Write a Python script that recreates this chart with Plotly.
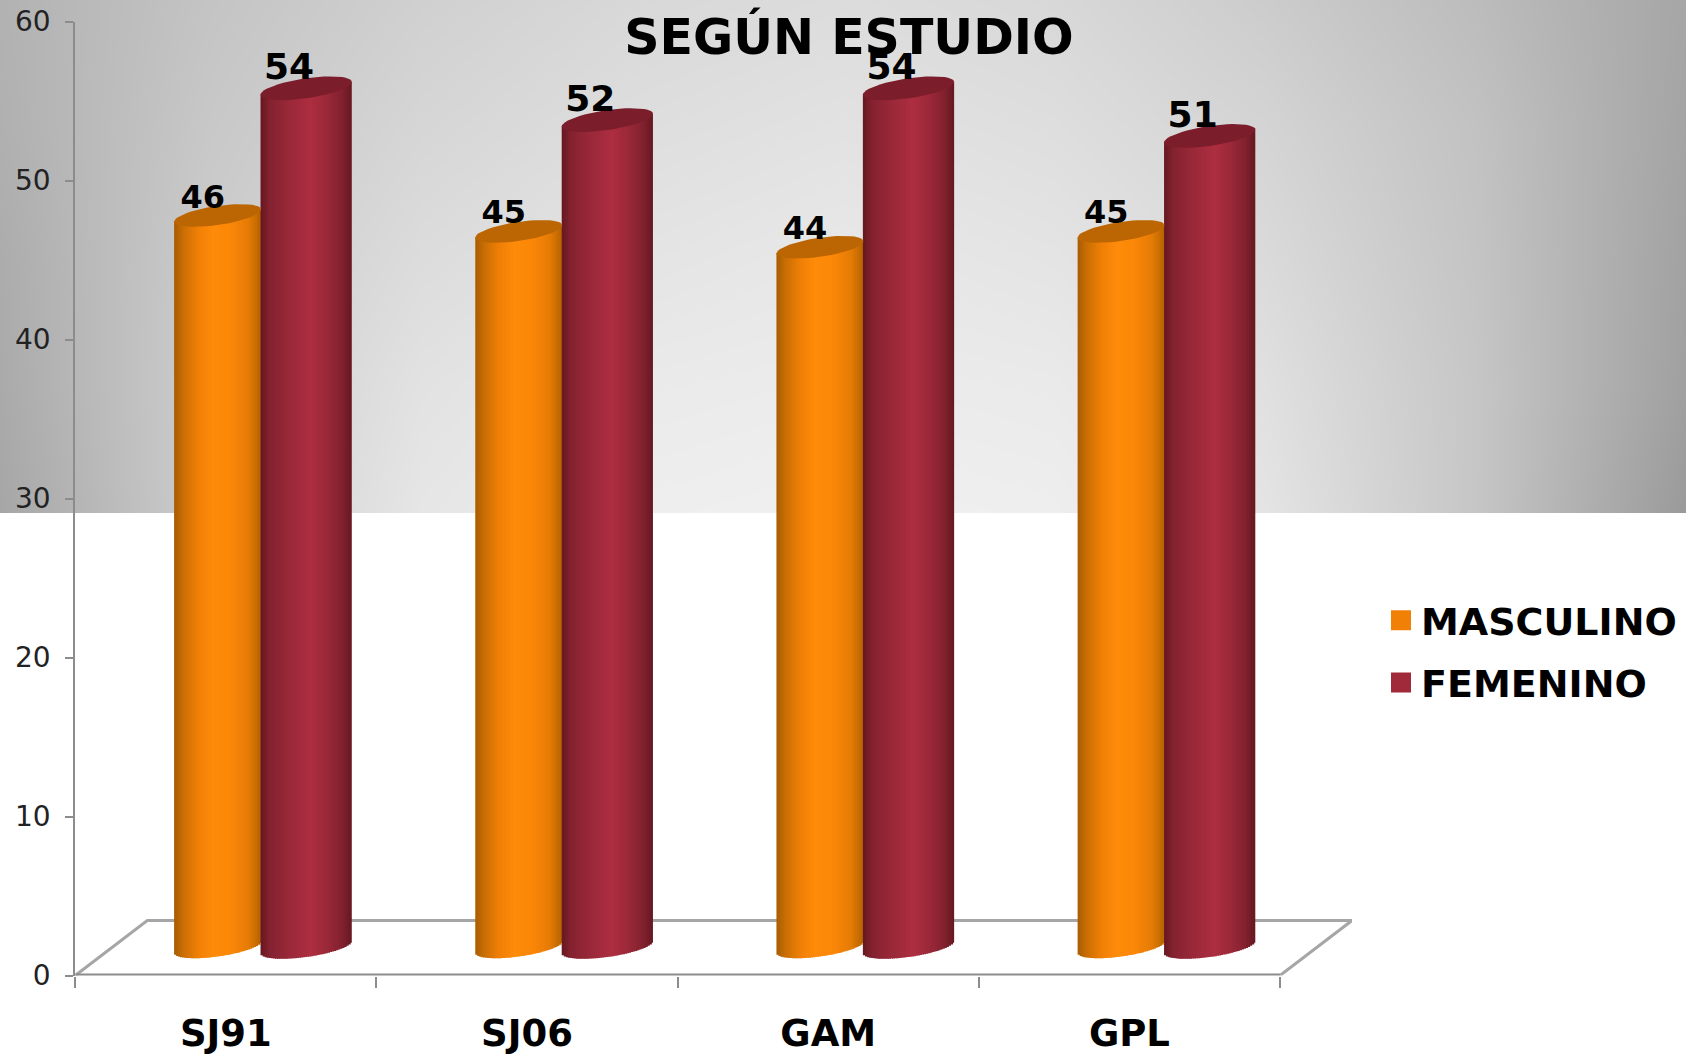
import math
import plotly.graph_objects as go

categories = ["SJ91", "SJ06", "GAM", "GPL"]
masculino = [46, 45, 44, 45]
femenino = [54, 52, 54, 51]
y_ticks = [0, 10, 20, 30, 40, 50, 60]

# Backdrop grey levels (rows top to bottom, columns left to right)
backdrop = [
    [178, 196, 208, 216, 220, 216, 204, 188, 166],
    [176, 200, 214, 222, 226, 222, 212, 194, 164],
    [172, 204, 220, 228, 232, 228, 218, 196, 162],
    [170, 206, 226, 234, 236, 234, 224, 198, 160],
    [166, 206, 230, 238, 240, 238, 228, 198, 154],
]

W, H = 1686, 1055
Y_BOTTOM, Y_TOP = 975.5, 21.5
px_per_cat = (1280 - 75.3) / 4
px_per_val = (Y_BOTTOM - Y_TOP) / 60
FLOOR = 1.8  # visual lift of the bars above the axis floor, in value units
DEPTH_X = 72 / px_per_cat
DEPTH_Y = 55 / px_per_val

ORANGE_STOPS = [(0, "#a85c02"), (0.10, "#c86e04"), (0.28, "#f08006"), (0.45, "#ff8b0a"),
                (0.65, "#fb8708"), (0.85, "#e67c06"), (1, "#b56400")]
RED_STOPS = [(0, "#651820"), (0.10, "#842230"), (0.30, "#982838"), (0.55, "#ad2e40"),
             (0.75, "#982838"), (0.90, "#80212e"), (1, "#651820")]


def mix(stops, t):
    for (a, ca), (b, cb) in zip(stops, stops[1:]):
        if t <= b:
            f = (t - a) / (b - a)
            c = [round(int(ca[i:i + 2], 16) * (1 - f) + int(cb[i:i + 2], 16) * f) for i in (1, 3, 5)]
            return "rgb(%d,%d,%d)" % tuple(c)
    return stops[-1][1]


fig = go.Figure()

fig.add_trace(go.Heatmap(z=backdrop, colorscale=[[0, "rgb(0,0,0)"], [1, "rgb(255,255,255)"]],
                         zmin=0, zmax=255, zsmooth="best", showscale=False, hoverinfo="skip",
                         xaxis="x", yaxis="y"))

# Floor of the 3D box, in its own subplot so that it stays behind the bars
fig.add_trace(go.Scatter(x=[0, DEPTH_X, 4 + DEPTH_X, 4], y=[0, DEPTH_Y, DEPTH_Y, 0], mode="lines",
                         line=dict(color="#a6a6a6", width=3),
                         cliponaxis=False, showlegend=False, hoverinfo="skip", xaxis="x2", yaxis="y2"))
fig.add_trace(go.Scatter(x=[0, 4], y=[0, 0], mode="lines", line=dict(color="#8c8c8c", width=4),
                         cliponaxis=False, showlegend=False, hoverinfo="skip", xaxis="x2", yaxis="y2"))

STRIPS = 44
K = 0.14
B_RATIO = 0.22


def cylinder(values, x0, x1, stops, top_color):
    a = (x1 - x0) * px_per_cat / 2
    b = a * B_RATIO
    for s in range(STRIPS):
        u0 = -1 + 2 * s / STRIPS
        um = u0 + 1 / STRIPS
        sag = b * (1 - um * um) ** 0.5 / px_per_val
        tilt = K * a * um / px_per_val
        left = x0 + (u0 + 1) / 2 * (x1 - x0)
        width = (x1 - x0) / STRIPS + (1 / px_per_cat if s < STRIPS - 1 else 0)
        fig.add_trace(go.Bar(
            x=list(range(len(values))),
            y=[v + sag for v in values],
            base=FLOOR + tilt - sag,
            offset=left, width=width,
            marker=dict(color=mix(stops, (s + 0.5) / STRIPS), line=dict(width=0)),
            showlegend=False, hoverinfo="skip", xaxis="x3", yaxis="y3"))
    n = 48
    for i, v in enumerate(values):
        xs, ys = [], []
        for t in range(n + 1):
            th = 2 * math.pi * t / n
            xs.append(i + (x0 + x1) / 2 + a * math.cos(th) / px_per_cat)
            ys.append(v + FLOOR + (K * a * math.cos(th) + b * math.sin(th)) / px_per_val)
        fig.add_trace(go.Scatter(x=xs, y=ys, mode="lines", fill="toself", fillcolor=top_color,
                                 line=dict(width=0, color=top_color), cliponaxis=False,
                                 showlegend=False, hoverinfo="skip", xaxis="x3", yaxis="y3"))


cylinder(masculino, 0.328, 0.617, ORANGE_STOPS, "#bb6603")
cylinder(femenino, 0.615, 0.918, RED_STOPS, "#7c1d2b")

# Value labels
fig.add_trace(go.Scatter(x=[i + 0.423 for i in range(4)], y=[v + FLOOR + 1.0 for v in masculino],
                         mode="text", text=[str(v) for v in masculino], textposition="middle center",
                         textfont=dict(family="DejaVu Sans", size=32, color="black", weight="bold"),
                         cliponaxis=False, showlegend=False, hoverinfo="skip", xaxis="x3", yaxis="y3"))
fig.add_trace(go.Scatter(x=[i + 0.71 for i in range(4)], y=[v + FLOOR + 1.15 for v in femenino],
                         mode="text", text=[str(v) for v in femenino], textposition="middle center",
                         textfont=dict(family="DejaVu Sans", size=36, color="black", weight="bold"),
                         cliponaxis=False, showlegend=False, hoverinfo="skip", xaxis="x3", yaxis="y3"))

# Legend entries
fig.add_trace(go.Scatter(x=[None], y=[None], mode="markers", name="MASCULINO", legendgroup="m",
                         marker=dict(symbol="square", size=16, color="#f08006", line=dict(width=4, color="#f08006")),
                         xaxis="x3", yaxis="y3"))
fig.add_trace(go.Scatter(x=[None], y=[None], mode="markers", name="FEMENINO", legendgroup="f",
                         marker=dict(symbol="square", size=16, color="#a02a3a", line=dict(width=4, color="#a02a3a")),
                         xaxis="x3", yaxis="y3"))

x_domain = [75.3 / W, (1280 + 72) / W]
y_domain = [1 - Y_BOTTOM / H, 1 - Y_TOP / H]
x_range = [0, 4 + DEPTH_X]

fig.update_layout(
    width=W, height=H,
    margin=dict(l=0, r=0, t=0, b=0, autoexpand=False),
    paper_bgcolor="white",
    plot_bgcolor="rgba(0,0,0,0)",
    barmode="overlay",
    showlegend=True,
    legend=dict(x=1381 / W, y=1 - 589 / H, xanchor="left", yanchor="top", bgcolor="rgba(0,0,0,0)",
                font=dict(family="DejaVu Sans", size=38, color="black", weight="bold"),
                itemsizing="trace", tracegroupgap=10, itemwidth=30, traceorder="grouped"),
    title=dict(text="<b>SEGÚN ESTUDIO</b>", x=849 / W, xanchor="center", y=1 - 37 / H, yanchor="middle",
               font=dict(family="DejaVu Sans", size=49, color="black")),
    xaxis=dict(domain=[0, 1], visible=False, fixedrange=True, range=[0, 8]),
    yaxis=dict(domain=[1 - 513 / H, 1], visible=False, fixedrange=True, range=[4, 0]),
    xaxis2=dict(domain=x_domain, range=x_range, anchor="y2", visible=False, fixedrange=True),
    yaxis2=dict(domain=y_domain, range=[0, 60], anchor="x2", visible=False, fixedrange=True),
    xaxis3=dict(domain=x_domain, range=x_range, anchor="y3",
                tickmode="array", tickvals=[0.5, 1.5, 2.5, 3.5], ticktext=categories, ticks="",
                tickfont=dict(family="DejaVu Sans", size=37, color="black", weight="bold"),
                showline=False, showgrid=False, zeroline=False,
                ticklabelstandoff=32,
                minor=dict(tickmode="array", tickvals=[0, 1, 2, 3, 4], ticks="outside", ticklen=11,
                           tickwidth=2, tickcolor="#8c8c8c", showgrid=False)),
    yaxis3=dict(domain=y_domain, range=[0, 60], anchor="x3",
                tickmode="array", tickvals=y_ticks, ticks="outside", ticklen=8, tickwidth=2,
                tickcolor="#8c8c8c", tickfont=dict(family="DejaVu Sans", size=28, color="#222222"),
                ticklabelstandoff=9,
                showline=True, linecolor="#8c8c8c", linewidth=2, showgrid=False, zeroline=False),
)

fig.write_html("out.html", config=dict(displayModeBar=False),
               post_script="document.body.style.margin='0';")
